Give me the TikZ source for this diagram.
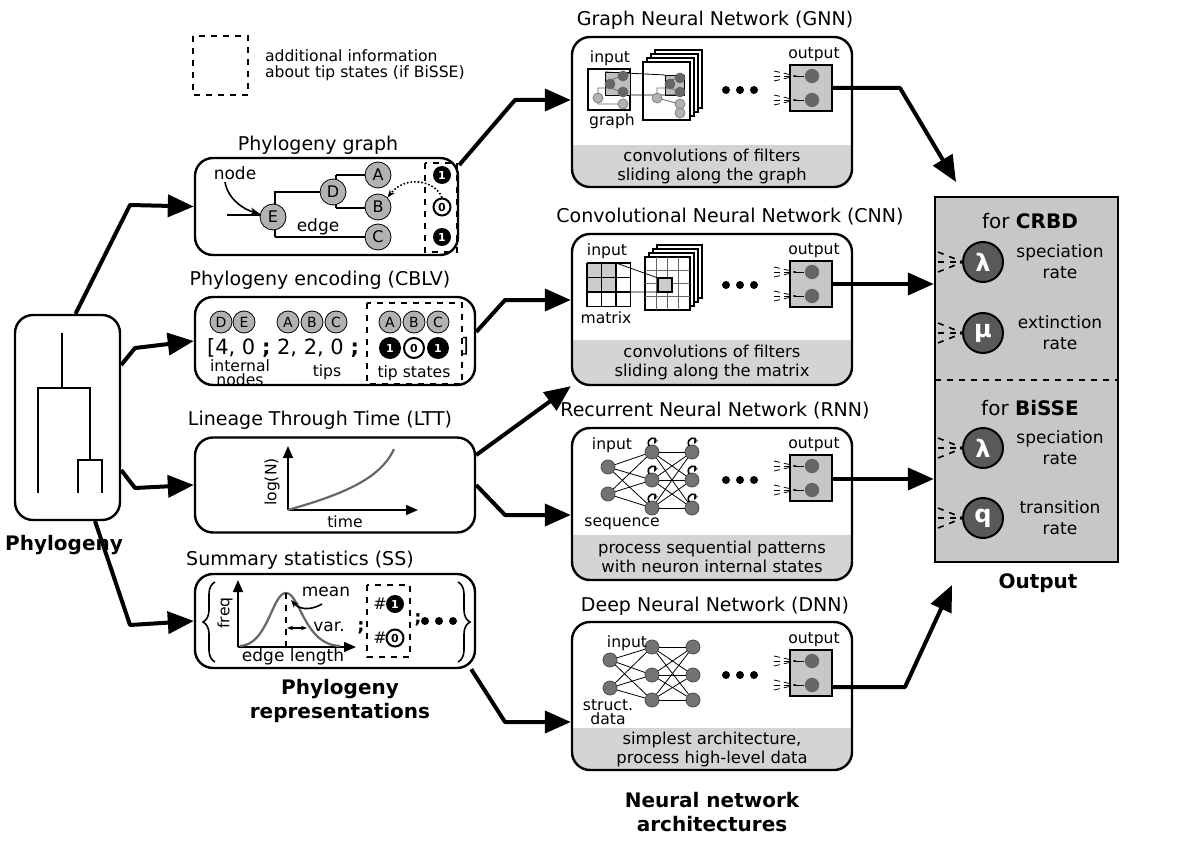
\documentclass[tikz,border=0pt]{standalone}
\usepackage{fontspec}
\setmainfont{DejaVu Sans}
\usetikzlibrary{arrows.meta,decorations.pathreplacing}
\begin{document}
\begin{tikzpicture}[x=0.5pt,y=-0.5pt,
 box/.style={draw,line width=1.2pt,rounded corners=9pt,inner sep=0},
 ttl/.style={font=\fontsize{9.5}{11}\selectfont},
 sm/.style={font=\fontsize{7.8}{8}\selectfont},
 band/.style={font=\fontsize{8.2}{9.5}\selectfont,align=center},
 bld/.style={font=\fontsize{10}{12}\selectfont\bfseries,align=center},
 big/.style={line width=2pt,line join=round,-{Triangle[length=13pt,width=11pt]}},
 gc/.style={circle,draw,fill=black!30,inner sep=0,font=\fontsize{8}{8}\selectfont},
 one/.style={circle,fill=black,text=white,inner sep=0,minimum size=9pt,font=\fontsize{5.5}{6}\selectfont\bfseries},
 zero/.style={circle,draw,line width=1pt,fill=white,inner sep=0,minimum size=8.5pt,font=\fontsize{5.5}{6}\selectfont\bfseries},
 nn/.style={circle,fill=black!55,draw=black!70,inner sep=0,minimum size=7pt},
 rc/.style={circle,draw,line width=1pt,fill=black!65,text=white,inner sep=0,minimum size=20pt,font=\fontsize{12}{12}\selectfont\bfseries},
 outp/.pic={
  \draw[line width=1pt,fill=black!22] (0,0) rectangle (42,46);
  \foreach \yy in {11,35}{
   \foreach \d in {-5,0,5} \draw[densely dashed,thin] (-16,\yy+\d) -- (6,\yy);
   \draw[thin] (6,\yy)--(14,\yy);
   \fill[black!60] (22,\yy) circle (3.6pt);}
  \node[sm] at (24,-10) {output};
 },
 dots/.pic={\foreach \i in {0,14,28} \fill (\i,0) circle (2pt);}
]
\useasboundingbox (0,0) rectangle (1200,856);

% ---------- legend
\draw[dashed,thick] (193,36) rectangle (248,95);
\node[sm,align=left,anchor=west] (leg) at (258,65) {additional information\\about tip states (if BiSSE)};

% ---------- phylogeny
\node[box,minimum width=52.5pt,minimum height=102.5pt] (phy) at (67.5,417.5) {};
\draw[line width=1.1pt] (62,333)--(62,388) (38,493)--(38,388)--(90,388)--(90,460) (78,493)--(78,460)--(102,460)--(102,493);
\node[bld] at (64,545) {Phylogeny};

% ---------- phylogeny graph
\node[ttl] at (318,145) {Phylogeny graph};
\node[box,minimum width=131.5pt,minimum height=48.5pt] (pg) at (326.5,206.5) {};
\draw[thick] (227,215)--(275,215) (275,237)--(275,192)--(333,192) (275,237)--(378,237)
 (336,175)--(336,208) (336,175)--(378,175) (336,208)--(378,208);
\node[gc,minimum size=13pt] (E) at (273,217) {E};
\node[gc,minimum size=13pt] (D) at (333,192) {D};
\node[gc,minimum size=13pt] (A) at (378,175) {A};
\node[gc,minimum size=13pt] (B) at (378,207) {B};
\node[gc,minimum size=13pt] (C) at (378,237) {C};
\draw[dashed,thick] (425,163) rectangle (457,252);
\node[one] (t1) at (442,175) {1};
\node[zero] (t0) at (442,207) {0};
\node[one] (t2) at (442,237) {1};
\node[font=\fontsize{8.5}{8}\selectfont] (nd) at (235,173) {node};
\node[font=\fontsize{8.5}{8}\selectfont] at (318,227) {edge};
\draw[thick,-{Stealth[length=5pt]}] (225,182) .. controls (228,200) and (245,210) .. (E);
\draw[densely dotted,thick,-{Stealth[length=4pt]}] (t0.north) .. controls (435,180) and (405,175) .. (B.north east);

% ---------- CBLV
\node[ttl] at (320,280) {Phylogeny encoding (CBLV)};
\node[box,minimum width=140pt,minimum height=44pt] (cb) at (335,341) {};
\foreach \n/\x in {D/221,E/244,A/288,B/312,C/336,A/390,B/414,C/438}
  \node[gc,minimum size=11pt,font=\fontsize{7}{7}\selectfont] at (\x,322) {\n};
\draw[dashed,thick] (367,303) rectangle (462,384);
\node[anchor=west,font=\fontsize{10.5}{10}\selectfont] at (200,348) {[4, 0 \textbf{;} 2, 2, 0 \textbf{;}};
\node[one,minimum size=11pt] at (390,348) {1};
\node[zero,minimum size=10pt] at (414,348) {0};
\node[one,minimum size=11pt] at (438,348) {1};
\node[font=\fontsize{10}{10}\selectfont] at (465,346) {]};
\node[align=center,font=\fontsize{7.8}{7}\selectfont] at (240,373) {internal\\nodes};
\node[sm] at (327,372) {tips};
\node[sm] at (414,373) {tip states};

% ---------- LTT
\node[ttl] at (320,420) {Lineage Through Time (LTT)};
\node[box,minimum width=140pt,minimum height=47.5pt] (ltt) at (335,485) {};
\draw[thick,-{Triangle[length=6pt,width=5pt]}] (288,510)--(288,446);
\draw[thick,-{Triangle[length=6pt,width=5pt]}] (288,510)--(418,510);
\draw[line width=1.1pt,black!60] (288,510) .. controls (340,495) and (380,480) .. (394,449);
\node[sm,rotate=90] at (272,482) {log(N)};
\node[sm] at (345,522) {time};

% ---------- SS
\node[ttl] at (300,560) {Summary statistics (SS)};
\node[box,minimum width=140pt,minimum height=47pt] (ss) at (335,621) {};
\draw[thick,decorate,decoration={brace,amplitude=6pt}] (215,662)--(215,582);
\draw[thick,decorate,decoration={brace,amplitude=6pt}] (458,582)--(458,662);
\draw[thick,-{Triangle[length=6pt,width=5pt]}] (238,647)--(238,580);
\draw[thick,-{Triangle[length=6pt,width=5pt]}] (238,647)--(356,647);
\draw[line width=1.1pt,black!60] (240,646) .. controls (268,645) and (272,593) .. (286,593) .. controls (300,593) and (304,645) .. (340,646);
\draw[dashed,thick] (286,593)--(286,647);
\node[font=\fontsize{8.5}{8}\selectfont] at (326,592) {mean};
\draw[thick,-{Stealth[length=4pt]}] (322,604) .. controls (308,612) and (298,608) .. (291,600);
\draw[thick,{Stealth[length=3pt]}-{Stealth[length=3pt]}] (287,628)--(307,628);
\node[font=\fontsize{8.5}{8}\selectfont] at (329,627) {var.};
\node[font=\fontsize{9}{9}\selectfont\bfseries] at (361,628) {;};
\draw[dashed,thick] (367,585) rectangle (410,657);
\node[font=\fontsize{8}{8}\selectfont] at (380,604) {\#};
\node[one] at (395,604) {1};
\node[font=\fontsize{8}{8}\selectfont] at (380,638) {\#};
\node[zero] at (395,638) {0};
\node[font=\fontsize{9}{9}\selectfont\bfseries] at (418,620) {;};
\pic at (425,621) {dots};
\node[sm,rotate=90] at (225,613) {freq};
\node[font=\fontsize{8.5}{8}\selectfont] at (293,657) {edge length};
\node[bld] at (340,701) {Phylogeny\\representations};

% ---------- NN boxes with bands
\foreach \yt/\yb/\yg in {37/187/145, 234/385/340, 428/580/535, 622/770/728}{
 \begin{scope}\clip[rounded corners=9pt] (572,\yt) rectangle (852,\yb);
 \fill[black!17] (572,\yg) rectangle (852,\yb);\end{scope}}
\node[box,minimum width=140pt,minimum height=75pt] (gnn) at (712,112) {};
\node[box,minimum width=140pt,minimum height=75.5pt] (cnn) at (712,309.5) {};
\node[box,minimum width=140pt,minimum height=76pt] (rnn) at (712,504) {};
\node[box,minimum width=140pt,minimum height=74pt] (dnn) at (712,696) {};
\node[ttl] at (715,20) {Graph Neural Network (GNN)};
\node[ttl] at (730,217) {Convolutional Neural Network (CNN)};
\node[ttl] at (715,411) {Recurrent Neural Network (RNN)};
\node[ttl] at (715,606) {Deep Neural Network (DNN)};
\node[band] at (712,166) {convolutions of filters\\sliding along the graph};
\node[band] at (712,362) {convolutions of filters\\sliding along the matrix};
\node[band] at (712,557) {process sequential patterns\\with neuron internal states};
\node[band] at (712,749) {simplest architecture,\\process high-level data};
\node[bld] at (712,812) {Neural network\\architectures};
\foreach \y in {65,261,455,650} \pic at (790,\y) {outp};
\foreach \y in {90,285,480,675} \pic at (726,\y) {dots};

% GNN inner
\draw[thick,fill=white] (588,69) rectangle (630,110);
\fill[black!25] (605,72) rectangle (630,95); \draw (605,72) rectangle (630,95);
\foreach \i in {3,2,1}{\draw[thick,fill=white] (643+4*\i,62-4*\i) rectangle (690+4*\i,120-4*\i);}
\draw[thick,fill=white] (643,62) rectangle (690,120);
\fill[black!25] (665,75) rectangle (684,95); \draw (665,75) rectangle (684,95);
\draw[black!60] (598,98)--(598,88)--(610,88)--(610,80)--(623,76) (610,88)--(623,92) (598,98)--(598,104)--(623,104)
 (657,98)--(657,88)--(670,88)--(670,80)--(680,78) (670,88)--(680,92) (657,98)--(680,104);
\draw (605,72)--(665,75) (630,95)--(684,95);
\foreach \p in {(623,76),(623,92),(610,84),(680,78),(680,92),(670,84)} \fill[black!60] \p circle (2.7pt);
\foreach \p in {(598,98),(623,104),(657,98),(680,104),(680,113)} {\fill[black!30] \p circle (2.5pt); \draw[black!50] \p circle (2.5pt);}
\node[sm] at (610,58) {input};
\node[sm] at (612,121) {graph};

% CNN inner
\fill[black!20] (587,263) rectangle (616,292);
\foreach \i in {0,1,2,3}{
 \draw[thick] (587+14.5*\i,263)--(587+14.5*\i,306.5);
 \draw[thick] (587,263+14.5*\i)--(630.5,263+14.5*\i);}
\foreach \i in {3,2,1}{\draw[thick,fill=white] (645+4*\i,257-4*\i) rectangle (690+4*\i,310-4*\i);}
\draw[thick,fill=white] (645,257) rectangle (690,310);
\foreach \i in {1,2,3}{
 \draw[black!60] (645+11.25*\i,257)--(645+11.25*\i,310);
 \draw[black!60] (645,257+13.25*\i)--(690,257+13.25*\i);}
\fill[black!20] (658,278) rectangle (672,292); \draw[thick] (658,278) rectangle (672,292);
\draw (616,263)--(658,278) (616,292)--(658,292);
\node[sm] at (607,251) {input};
\node[sm] at (606,318) {matrix};

% RNN inner
\foreach \y in {467,494} \node[nn] (ri\y) at (608,\y) {};
\foreach \x in {652,692} \foreach \y in {452,480,508} {
 \node[nn] (r\x\y) at (\x,\y) {};
 \draw[thick,-{Stealth[length=2.5pt]}] (\x-3,\y-6) .. controls (\x-7,\y-15) and (\x+6,\y-16) .. (\x+2,\y-8);}
\foreach \a in {467,494} \foreach \b in {452,480,508} \draw (ri\a)--(r652\b);
\foreach \a in {452,480,508} \foreach \b in {452,480,508} \draw (r652\a)--(r692\b);
\node[sm] at (612,445) {input};
\node[sm] at (622,524) {sequence};

% DNN inner
\foreach \y in {660,688} \node[nn] (di\y) at (610,\y) {};
\foreach \x in {652,693} \foreach \y in {647,675,700} \node[nn] (d\x\y) at (\x,\y) {};
\foreach \a in {660,688} \foreach \b in {647,675,700} \draw (di\a)--(d652\b);
\foreach \a in {647,675,700} \foreach \b in {647,675,700} \draw (d652\a)--(d693\b);
\node[sm] at (627,643) {input};
\node[align=center,font=\fontsize{7.8}{7}\selectfont] at (608,712) {struct.\\data};

% ---------- Output
\node[draw,line width=1.2pt,fill=black!22,minimum width=91.5pt,minimum height=182.5pt,inner sep=0] (out) at (1026.5,379.5) {};
\draw[dashed,line width=1.1pt] (935,380)--(1118,380);
\node[font=\fontsize{10}{10}\selectfont] at (1030,221) {for \textbf{CRBD}};
\node[font=\fontsize{10}{10}\selectfont] at (1030,408) {for \textbf{BiSSE}};
\foreach \y/\s/\t in {262/λ/speciation\\rate, 333/μ/extinction\\rate, 448/λ/speciation\\rate, 518/q/transition\\rate}{
 \node[rc] at (983,\y) {\s};
 \foreach \d in {-10,0,10} \draw[dashed,thick] (938,\y+\d)--(963,\y);
 \node[align=center,font=\fontsize{8.5}{10.5}\selectfont] at (1060,\y) {\t};}
\node[bld] at (1038,583) {Output};

% ---------- arrows
\draw[big] (phy.north) ++(8,0) -- (130,205) -- (pg.west);
\draw[big] (phy.east |- 0,365) -- (135,348) -- (cb.west);
\draw[big] (phy.east |- 0,470) -- (135,488) -- (ltt.west);
\draw[big] (95,521) -- (130,625) -- (ss.west);
\draw[big] (pg.east |- 0,165) -- (515,100) -- (gnn.west |- 0,100);
\draw[big] (cb.east |- 0,332) -- (505,300) -- (cnn.west |- 0,300);
\draw[big] (ltt.east |- 0,455) -- (cnn.south west);
\draw[big] (ltt.east |- 0,485) -- (505,515) -- (rnn.west |- 0,515);
\draw[big] (ss.south east) ++(-5,0) -- (505,722) -- (dnn.west |- 0,722);
\draw[big] (832,88) -- (900,88) -- (956,182);
\draw[big] (832,284) -- (out.west |- 0,284);
\draw[big] (832,479) -- (out.west |- 0,479);
\draw[big] (832,687) -- (905,687) -- (952,585);
\end{tikzpicture}
\end{document}
